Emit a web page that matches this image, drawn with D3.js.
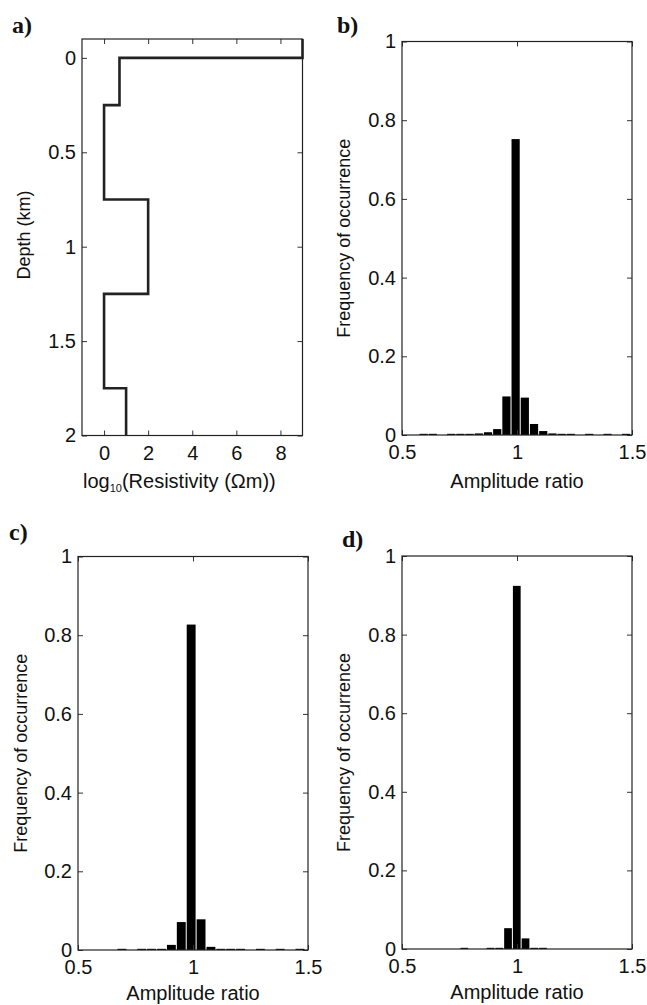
<!DOCTYPE html>
<html>
<head>
<meta charset="utf-8">
<script src="https://cdn.jsdelivr.net/npm/d3@7"></script>
<style>
  body { margin: 0; background: #fff; }
  text { font-family: "Liberation Sans", Arial, sans-serif; fill: #111; }
  .panel-label { font-family: "Liberation Serif", "Times New Roman", serif; font-weight: bold; font-size: 24px; }
</style>
</head>
<body>
<script>
const WIDTH = 647;
const HEIGHT = 1005;
const TICK = 5;

// panel a: layered resistivity model (depth of layer top, log10 resistivity)
const layerTops = [-0.1, 0, 0.25, 0.75, 1.25, 1.75];
const layerLogRes = [9, 0.7, 0, 2, 0, 1];
const modelBottom = 2;
const depthTicks = [0, 0.5, 1, 1.5, 2];
const resTicks = [0, 2, 4, 6, 8];

// panels b, c, d: histograms of amplitude ratio
const ratioTicks = [0.5, 1, 1.5];
const freqTicks = [0, 0.2, 0.4, 0.6, 0.8, 1];

const binsB = [0.594, 0.634, 0.674, 0.714, 0.754, 0.794, 0.834, 0.874, 0.914, 0.954, 0.994, 1.034,
               1.074, 1.114, 1.154, 1.194, 1.234, 1.274, 1.314, 1.354, 1.394, 1.434, 1.474];
const freqB = [0.003, 0.003, 0, 0.003, 0.003, 0.003, 0.004, 0.007, 0.015, 0.098, 0.752, 0.095,
               0.028, 0.010, 0.004, 0.003, 0.003, 0, 0.003, 0, 0.003, 0, 0.003];
const binWidthB = 0.04;

const binsC = [0.691, 0.734, 0.777, 0.820, 0.863, 0.906, 0.949, 0.992, 1.035, 1.078,
               1.121, 1.164, 1.207, 1.250, 1.293, 1.336, 1.379, 1.422, 1.465];
const freqC = [0.003, 0, 0.003, 0.003, 0.003, 0.013, 0.071, 0.827, 0.078, 0.008,
               0.003, 0.003, 0.003, 0, 0.003, 0, 0.003, 0, 0.003];
const binWidthC = 0.043;

const binsD = [0.771, 0.809, 0.847, 0.885, 0.923, 0.961, 0.999, 1.037, 1.075, 1.113];
const freqD = [0.003, 0, 0, 0.003, 0.003, 0.053, 0.924, 0.027, 0.003, 0.003];
const binWidthD = 0.038;

let svg = d3.select("body").append("svg")
    .attr("width", WIDTH)
    .attr("height", HEIGHT);

// ticks pointing inwards on all four sides, labels only on left and bottom
drawFrame = (box, xscale, yscale, xTicks, yTicks, xFmt, yFmt) => {
    let g = svg.append("g");

    let bottom = g.append("g").attr("transform", "translate(0," + box.bottom + ")")
        .call(d3.axisBottom(xscale).tickValues(xTicks).tickSizeInner(-TICK).tickSizeOuter(0)
            .tickPadding(10).tickFormat(xFmt));
    let top = g.append("g").attr("transform", "translate(0," + box.top + ")")
        .call(d3.axisTop(xscale).tickValues(xTicks).tickSizeInner(-TICK).tickSizeOuter(0).tickFormat(""));
    let left = g.append("g").attr("transform", "translate(" + box.left + ",0)")
        .call(d3.axisLeft(yscale).tickValues(yTicks).tickSizeInner(-TICK).tickSizeOuter(0)
            .tickPadding(6).tickFormat(yFmt));
    let right = g.append("g").attr("transform", "translate(" + box.right + ",0)")
        .call(d3.axisRight(yscale).tickValues(yTicks).tickSizeInner(-TICK).tickSizeOuter(0).tickFormat(""));

    [bottom, top, left, right].forEach(a => {
        a.select(".domain").remove();
        a.selectAll(".tick line").attr("stroke", "#333").attr("stroke-width", 1);
        a.selectAll("text").attr("font-size", 20).attr("fill", "#111")
            .attr("font-family", "Liberation Sans, Arial, sans-serif");
    });

    g.append("rect")
        .attr("x", box.left).attr("y", box.top)
        .attr("width", box.right - box.left).attr("height", box.bottom - box.top)
        .attr("fill", "none").attr("stroke", "#222").attr("stroke-width", 1.2);
    return g;
}

yLabel = (text, x, y) => {
    svg.append("text")
        .attr("transform", "translate(" + x + "," + y + ") rotate(-90)")
        .attr("text-anchor", "middle")
        .attr("font-size", 18)
        .text(text);
}

xLabel = (text, x, y) => {
    return svg.append("text")
        .attr("x", x).attr("y", y)
        .attr("text-anchor", "middle")
        .attr("font-size", 20)
        .text(text);
}

panelLabel = (text, x, y) => {
    svg.append("text").attr("class", "panel-label").attr("x", x).attr("y", y).text(text);
}

// ---- panel a ----
createModelPanel = () => {
    let box = {left: 82, top: 39, right: 302.5, bottom: 435.5};
    let xscale = d3.scaleLinear().domain([-1, 9]).range([box.left, box.right]);
    let yscale = d3.scaleLinear().domain([-0.1, modelBottom]).range([box.top, box.bottom]);

    drawFrame(box, xscale, yscale, resTicks, depthTicks, d3.format("d"), d => d);

    let pts = layerTops.map((d, i) => [layerLogRes[i], d]);
    pts.push([layerLogRes[layerLogRes.length - 1], modelBottom]);

    let line = d3.line()
        .x(d => xscale(d[0]))
        .y(d => yscale(d[1]))
        .curve(d3.curveStepBefore);

    svg.append("path")
        .datum(pts)
        .attr("fill", "none")
        .attr("stroke", "#222")
        .attr("stroke-width", 2.6)
        .attr("d", line);

    yLabel("Depth (km)", 30, 235);
    let lab = svg.append("text")
        .attr("x", 83).attr("y", 488)
        .attr("font-size", 20);
    lab.append("tspan").text("log");
    lab.append("tspan").attr("font-size", 11).attr("dy", 4).text("10");
    lab.append("tspan").attr("dy", -4).text("(Resistivity (\u03A9m))");
    panelLabel("a)", 12, 33);
}

// ---- histogram panels ----
createHistPanel = (box, bins, freqs, binWidth, name, labelPos, yLabelX, xLabelY) => {
    let xscale = d3.scaleLinear().domain([0.5, 1.5]).range([box.left, box.right]);
    let yscale = d3.scaleLinear().domain([0, 1]).range([box.bottom, box.top]);

    svg.append("g").selectAll("rect")
        .data(bins.map((c, i) => ({c: c, f: freqs[i]})).filter(d => d.f > 0))
        .join("rect")
        .attr("x", d => xscale(d.c - binWidth / 2) + 0.5)
        .attr("width", d => xscale(d.c + binWidth / 2) - xscale(d.c - binWidth / 2) - 1)
        .attr("y", d => yscale(d.f))
        .attr("height", d => yscale(0) - yscale(d.f))
        .attr("fill", "#000");

    drawFrame(box, xscale, yscale, ratioTicks, freqTicks, d => d, d => d);

    yLabel("Frequency of occurrence", yLabelX, (box.top + box.bottom) / 2);
    xLabel("Amplitude ratio", (box.left + box.right) / 2, xLabelY);
    panelLabel(name, labelPos[0], labelPos[1]);
}

createModelPanel();
createHistPanel({left: 402, top: 41.5, right: 632, bottom: 435}, binsB, freqB, binWidthB, "b)", [337, 33], 350, 488);
createHistPanel({left: 78, top: 556.5, right: 308, bottom: 950}, binsC, freqC, binWidthC, "c)", [9, 540], 27, 1000);
createHistPanel({left: 402, top: 556, right: 632, bottom: 949}, binsD, freqD, binWidthD, "d)", [342, 547], 350, 999);
</script>
</body>
</html>
